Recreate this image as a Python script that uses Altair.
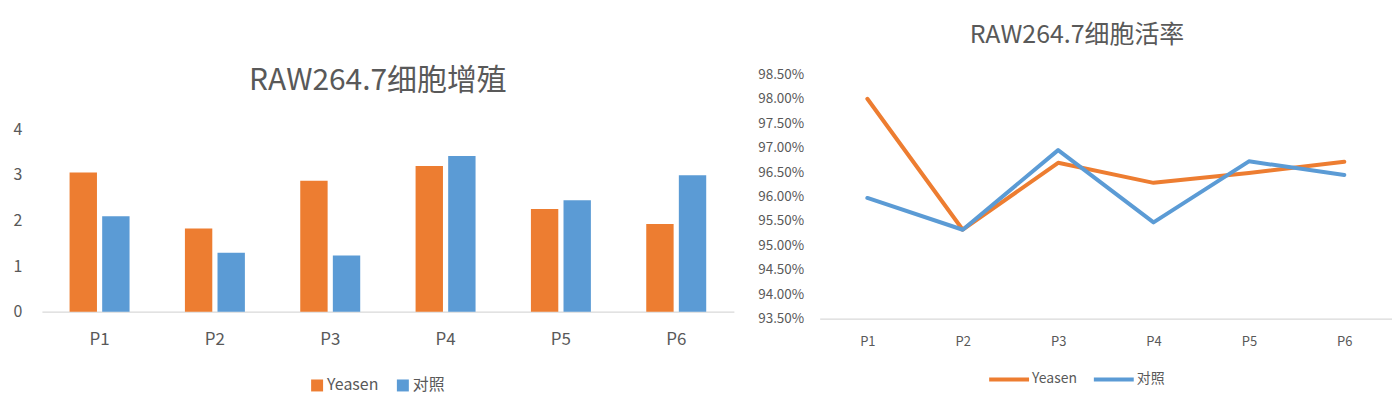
import altair as alt
import pandas as pd

FONT = "Noto Sans CJK SC"
TXT = "#595959"

categories = ["P1", "P2", "P3", "P4", "P5", "P6"]
series = ["Yeasen", "对照"]
colors = ["#ED7D31", "#5B9BD5"]

# RAW264.7 cell proliferation
prolif_yeasen = [3.05, 1.82, 2.87, 3.19, 2.25, 1.92]
prolif_ctrl = [2.09, 1.29, 1.23, 3.41, 2.44, 2.99]

# RAW264.7 cell viability (fraction)
viab_yeasen = [0.9800, 0.9532, 0.9669, 0.9628, 0.9648, 0.9671]
viab_ctrl = [0.9597, 0.9532, 0.9695, 0.9547, 0.9672, 0.9644]

prolif_ticks = [0, 1, 2, 3, 4]
viab_ticks = [0.935, 0.94, 0.945, 0.95, 0.955, 0.96, 0.965, 0.97, 0.975, 0.98, 0.985]

df_bar = pd.DataFrame({
    "cat": categories * 2,
    "series": [series[0]] * 6 + [series[1]] * 6,
    "value": prolif_yeasen + prolif_ctrl,
})
df_line = pd.DataFrame({
    "cat": categories * 2,
    "series": [series[0]] * 6 + [series[1]] * 6,
    "value": viab_yeasen + viab_ctrl,
})

left = alt.Chart(df_bar).mark_bar().encode(
    x=alt.X("cat:N", sort=categories,
            scale=alt.Scale(paddingInner=0.48, paddingOuter=0.24),
            axis=alt.Axis(title=None, labelAngle=0, labelFontSize=17, labelPadding=20,
                          ticks=False, tickSize=0, domainColor="#D9D9D9", domainWidth=1.3)),
    xOffset=alt.XOffset("series:N", sort=series, scale=alt.Scale(paddingInner=0.16)),
    y=alt.Y("value:Q", scale=alt.Scale(domain=[0, 5.2], nice=False),
            axis=alt.Axis(values=prolif_ticks, title=None, grid=False, domain=False,
                          ticks=False, tickSize=0, labelPadding=20, labelFontSize=16)),
    color=alt.Color("series:N", sort=series,
                    scale=alt.Scale(domain=series, range=colors),
                    legend=alt.Legend(title=None, orient="none", direction="horizontal",
                                      legendX=268, legendY=304, symbolType="square",
                                      symbolSize=144, symbolStrokeWidth=0,
                                      labelFontSize=16, labelOffset=2, columnPadding=16,
                                      labelColor=TXT, labelFont=FONT)),
).properties(
    width=694, height=238,
    title=alt.TitleParams("RAW264.7细胞增殖", fontSize=30, font=FONT, color=TXT,
                          fontWeight="normal", anchor="middle", offset=-22, dx=-10),
)

right = alt.Chart(df_line).mark_line(strokeWidth=4, strokeJoin="round", strokeCap="round").encode(
    x=alt.X("cat:N", sort=categories, scale=alt.Scale(type="point", padding=0.5),
            axis=alt.Axis(title=None, labelAngle=0, labelFontSize=13, labelPadding=17,
                          ticks=False, tickSize=0, domainColor="#D9D9D9", domainWidth=1.3)),
    y=alt.Y("value:Q", scale=alt.Scale(domain=[0.935, 0.985], nice=False, zero=False),
            axis=alt.Axis(values=viab_ticks, format=".2%", title=None, grid=False,
                          domain=False, ticks=False, tickSize=0, labelPadding=16,
                          labelFontSize=13.5)),
    color=alt.Color("series:N", sort=series,
                    scale=alt.Scale(domain=series, range=colors),
                    legend=alt.Legend(title=None, orient="none", direction="horizontal",
                                      legendX=183, legendY=299, symbolType="M-4,0H4",
                                      symbolSize=100, symbolStrokeWidth=4,
                                      labelFontSize=14, labelOffset=16, columnPadding=8,
                                      labelColor=TXT, labelFont=FONT)),
).properties(
    width=574, height=245,
    title=alt.TitleParams("RAW264.7细胞活率", fontSize=25, font=FONT, color=TXT,
                          fontWeight="normal", anchor="middle", offset=19, dx=-29),
)

chart = alt.hconcat(left, right, spacing=23).resolve_scale(
    color="independent"
).resolve_legend(color="independent").properties(
    padding={"left": 5, "top": 15, "right": 0, "bottom": 0}
).configure_view(stroke=None).configure_axis(
    labelColor=TXT, labelFont=FONT
)

chart.save("out.html", embed_options={"renderer": "svg", "actions": False})
